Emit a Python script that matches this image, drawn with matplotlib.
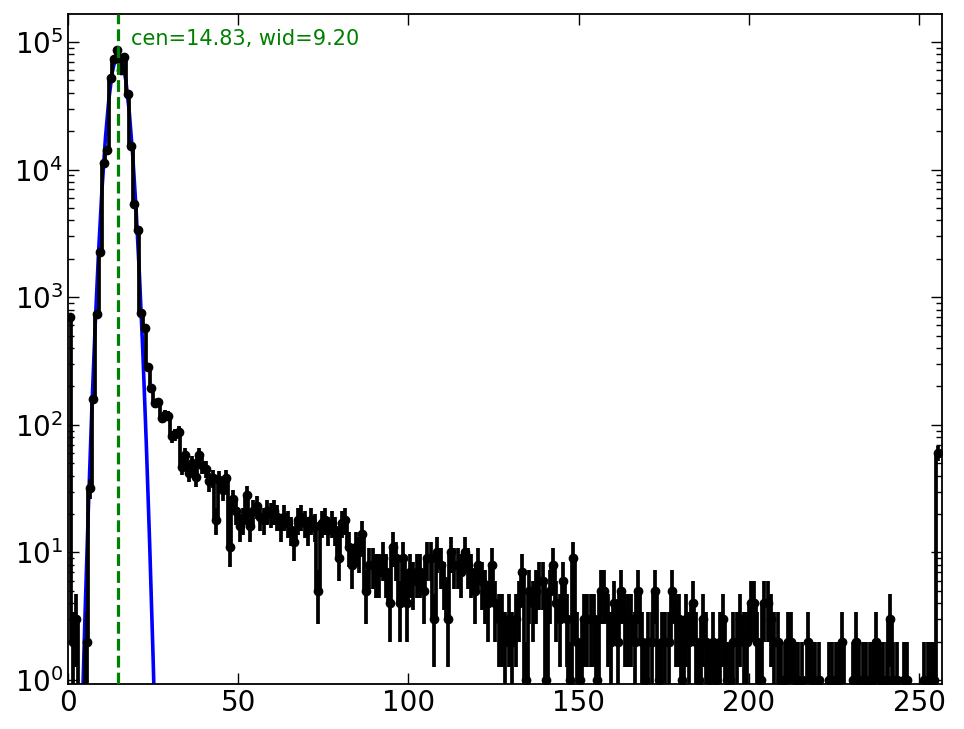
import numpy as np
import matplotlib
matplotlib.use("Agg")
import matplotlib.pyplot as plt
import matplotlib.transforms as mtransforms

# counts per channel (bins 0..255)
counts = [
    700, 2, 3, 0, 0, 2, 32, 159, 740, 2260,
    11200, 14200, 52000, 73500, 86500, 60000, 76000, 39000, 15300, 5400,
    3370, 752, 575, 284, 194, 148, 150, 113, 120, 117,
    81, 84, 88, 47, 58, 42, 50, 39, 58, 48,
    45, 36, 38, 18, 37, 31, 38, 11, 26, 21,
    16, 18, 28, 16, 21, 23, 19, 18, 21, 20,
    21, 19, 16, 19, 17, 15, 12, 18, 19, 17,
    15, 18, 16, 5, 17, 18, 15, 17, 15, 9,
    17, 18, 11, 8, 11, 10, 14, 5, 8, 8,
    7, 7, 9, 7, 4, 11, 9, 4, 9, 4,
    7, 6, 7, 7, 5, 9, 9, 3, 10, 8,
    6, 3, 10, 8, 8, 7, 10, 8, 7, 5,
    8, 6, 5, 4, 8, 4, 3, 3, 2, 3,
    2, 3, 4, 7, 1, 5, 4, 5, 6, 6,
    1, 5, 8, 4, 3, 6, 3, 1, 9, 2,
    1, 3, 3, 3, 3, 1, 5, 5, 3, 2,
    4, 2, 5, 3, 3, 3, 2, 5, 2, 1,
    2, 2, 5, 1, 2, 2, 2, 5, 3, 3,
    1, 3, 2, 4, 2, 1, 3, 2, 1, 2,
    1, 2, 3, 1, 1, 2, 2, 3, 2, 2,
    4, 4, 2, 1, 4, 4, 3, 2, 2, 1,
    1, 2, 2, 1, 1, 1, 0, 2, 1, 1,
    1, 0, 0, 1, 1, 1, 1, 2, 0, 0,
    1, 2, 1, 1, 1, 1, 1, 2, 1, 1,
    1, 3, 1, 1, 0, 1, 1, 0, 0, 0,
    0, 1, 1, 1, 1, 60,
]

# gaussian fit curve, sampled at integer channels
fit_x = [4, 5, 6, 7, 8, 9, 10, 11, 12, 13, 14, 15, 16, 17, 18, 19, 20,
         21, 22, 23, 24, 25, 26]
fit_y = [0.355, 3.14, 22.3, 130, 605, 2290, 7040, 17500, 35300, 57600,
         76300, 81750, 71000, 49900, 28500, 13150, 4930, 1490, 367, 72.7,
         11.7, 1.52, 0.16]

cen = 14.83
wid = 9.20

counts = np.array(counts, dtype=float)
chan = np.arange(len(counts)) + 0.5

fig = plt.figure(figsize=(9.64, 7.29), dpi=100)
ax = fig.add_axes([0.0705, 0.0617, 0.9065, 0.9193])

ax.plot(fit_x, fit_y, color="blue", lw=2.6, zorder=2)
ax.errorbar(chan, counts, yerr=np.sqrt(counts), fmt="o-", color="k",
            ms=6, lw=2.7, elinewidth=2.7, capsize=0, zorder=3,
            drawstyle="steps-mid")
ax.axvline(cen, color="green", ls="--", lw=2.3, zorder=4)

trans = mtransforms.blended_transform_factory(ax.transData, ax.transAxes)
ax.text(cen + 3.8, 0.978, "cen=%.2f, wid=%.2f" % (cen, wid), color="green",
        fontsize=15, va="top", ha="left", transform=trans)

ax.set_yscale("log")
ax.set_xlim(0, 256.7)
ax.set_ylim(0.93, 1.66e5)
ax.set_xticks([0, 50, 100, 150, 200, 250])

ax.tick_params(which="both", direction="in", top=True, right=True,
               labelsize=20)
ax.tick_params(which="major", length=8, width=1)
ax.tick_params(which="minor", length=4, width=1)
for s in ax.spines.values():
    s.set_linewidth(1.3)

fig.savefig("out.png", dpi=100)
